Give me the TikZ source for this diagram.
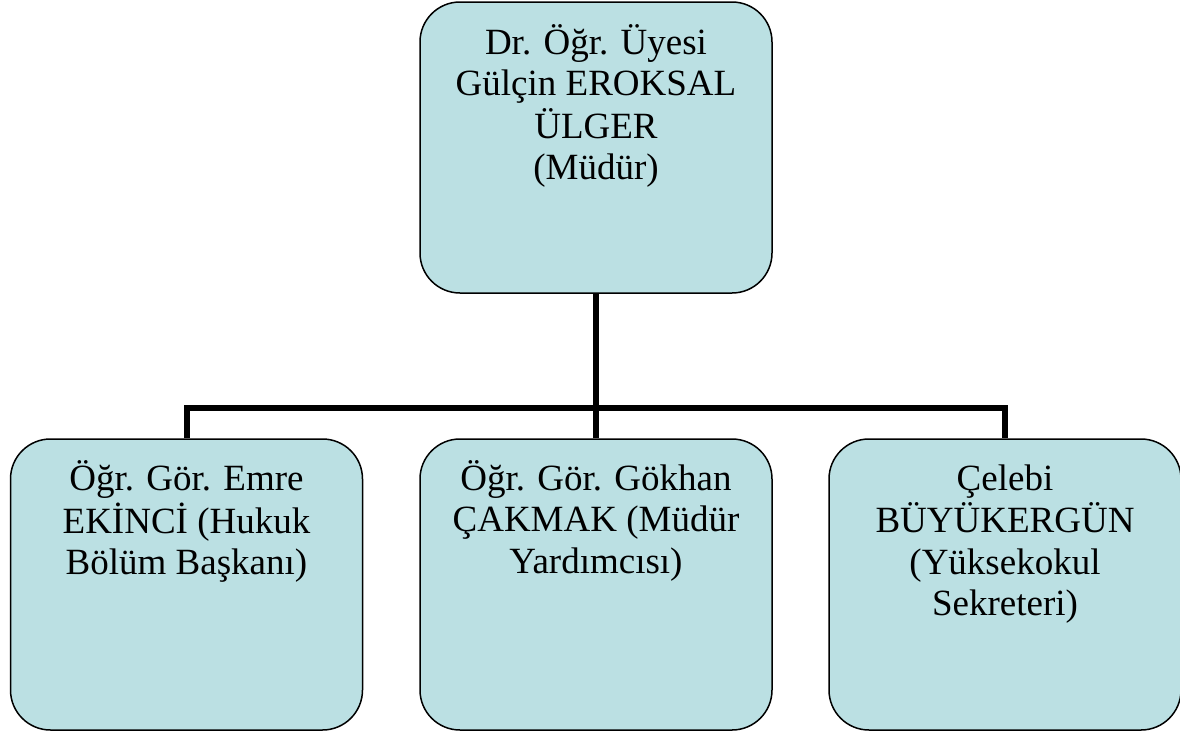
\documentclass[tikz,border=0pt]{standalone}
\usepackage{fontspec}
\setmainfont{Liberation Serif}
\definecolor{boxfill}{RGB}{187,224,227}
\newcommand{\boxlines}[1]{\begin{tabular}[t]{@{}c@{}}#1\end{tabular}}

\begin{document}
\begin{tikzpicture}[x=1pt,y=-1pt,
    unit/.style={draw=black,line width=1.5pt,fill=boxfill,rounded corners=40pt,
        minimum width=352pt,minimum height=291pt,inner sep=0pt},
    title/.style={anchor=base,inner sep=0pt,
        font=\fontsize{37}{41.5}\selectfont},
    link/.style={line width=6pt}]
                \useasboundingbox (0,0) rectangle (1180,731);
                \node[unit] (head) at (596,147.5) {};
                \node[unit] (left) at (186.5,584.5) {};
                \node[unit] (mid) at (596,584.5) {};
                \node[unit] (right) at (1005,584.5) {};
                \coordinate (split) at (596,408);
                \draw[link] (head.south) -- (split);
                \draw[link] (left.north) |- (split) -| (right.north);
                \draw[link] (mid.north) -- (split);
                \node[title] (headtext) at ([yshift=-53pt]head.north) {\boxlines{Dr. Öğr. Üyesi\\Gülçin EROKSAL\\ÜLGER\\(Müdür)}};
                \node[title] (lefttext) at ([yshift=-52pt]left.north) {\boxlines{Öğr. Gör. Emre\\EKİNCİ (Hukuk\\Bölüm Başkanı)}};
                \node[title] (midtext) at ([yshift=-52pt]mid.north) {\boxlines{Öğr. Gör. Gökhan\\ÇAKMAK (Müdür\\Yardımcısı)}};
                \node[title] (righttext) at ([yshift=-52pt]right.north) {\boxlines{Çelebi\\BÜYÜKERGÜN\\(Yüksekokul\\Sekreteri)}};
\end{tikzpicture}
\end{document}
